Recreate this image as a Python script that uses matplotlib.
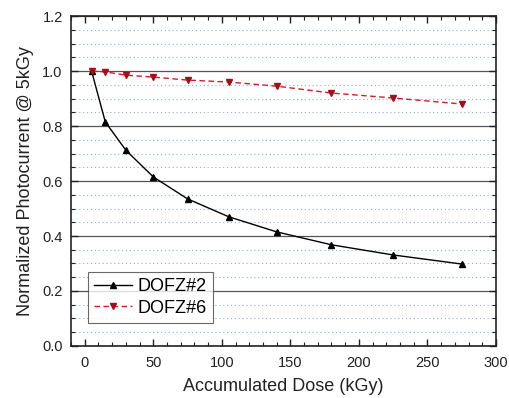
import matplotlib.pyplot as plt
from matplotlib.ticker import MultipleLocator

plt.rcParams['font.family'] = ['Liberation Sans', 'DejaVu Sans']

dose = [5, 15, 30, 50, 75, 105, 140, 180, 225, 275]
dofz2 = [1.0, 0.815, 0.712, 0.615, 0.535, 0.47, 0.415, 0.368, 0.331, 0.298]
dofz6 = [1.0, 0.997, 0.985, 0.978, 0.967, 0.96, 0.945, 0.92, 0.902, 0.88]

fig = plt.figure(figsize=(5.09, 3.98), dpi=100)
ax = fig.add_axes([0.1395, 0.1307, 0.835, 0.829])

# grid: solid at major, dotted at minor (y only)
ax.yaxis.set_major_locator(MultipleLocator(0.2))
ax.yaxis.set_minor_locator(MultipleLocator(0.05))
ax.xaxis.set_major_locator(MultipleLocator(50))
ax.xaxis.set_minor_locator(MultipleLocator(10))
ax.grid(axis='y', which='major', color='#555555', lw=0.9, ls='-')
ax.grid(axis='y', which='minor', color='#8fb0d0', lw=0.8, ls=(0, (1, 2.5)))
ax.set_axisbelow(True)

ax.plot(dose, dofz2, color='black', lw=1.0, marker='^', ms=5, label='DOFZ#2')
ax.plot(dose, dofz6, color='#cc1f2a', lw=1.0, ls=(0, (4, 2.5)), marker='v',
        ms=5, mfc='#a01018', mec='#a01018', label='DOFZ#6')

ax.set_xlim(-10, 300)
ax.set_ylim(0, 1.2)
ax.set_yticks([0, 0.2, 0.4, 0.6, 0.8, 1.0, 1.2])
ax.set_yticklabels(['0.0', '0.2', '0.4', '0.6', '0.8', '1.0', '1.2'])

ax.tick_params(which='both', direction='in', top=True, right=True,
               labelsize=10.5, colors='#222222')
ax.tick_params(which='major', length=5, width=1.0, pad=6)
ax.tick_params(axis='x', which='major', pad=7)
ax.tick_params(which='minor', length=3, width=0.8)
for s in ax.spines.values():
    s.set_linewidth(1.2)
    s.set_color('#222222')

ax.set_xlabel('Accumulated Dose (kGy)', fontsize=13, color='#222222', labelpad=6)
ax.set_ylabel('Normalized Photocurrent @ 5kGy', fontsize=13, color='#222222',
              labelpad=6)

leg = ax.legend(loc='lower left', bbox_to_anchor=(0.04, 0.07), fontsize=13,
                frameon=True, fancybox=False, edgecolor='#444444',
                handlelength=2.1, handletextpad=0.3, borderpad=0.35,
                labelspacing=0.25, borderaxespad=0)
leg.get_frame().set_linewidth(0.8)

fig.savefig('out.png', dpi=100)
